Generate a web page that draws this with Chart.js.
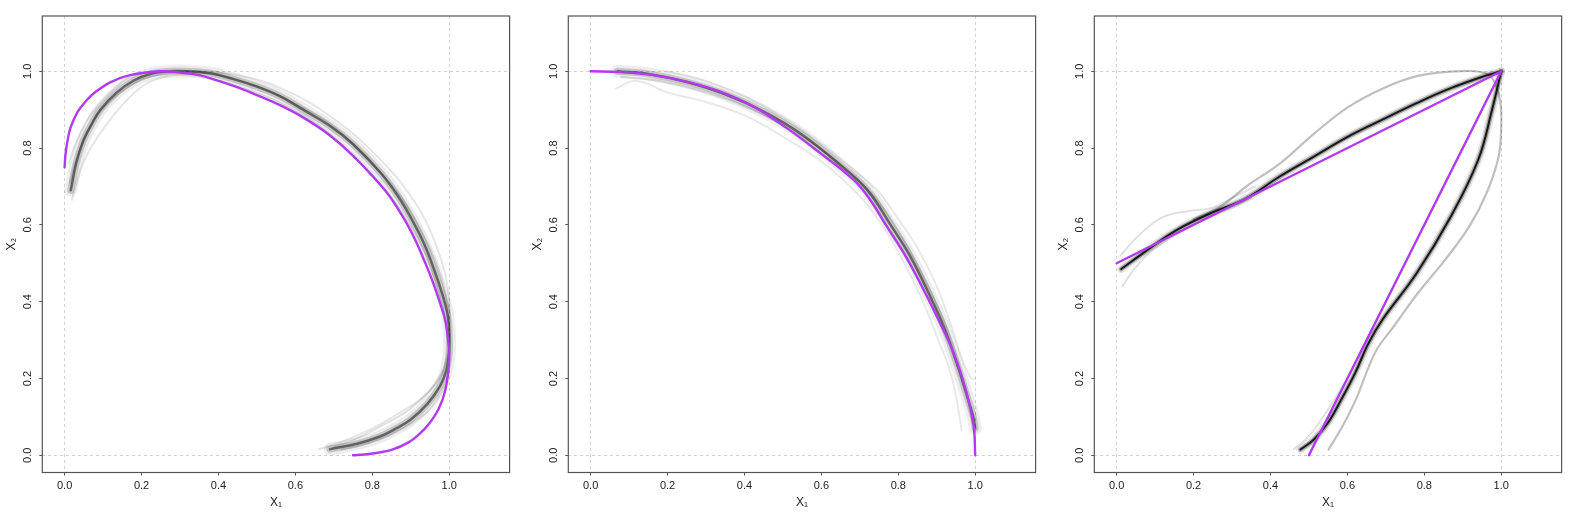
<!DOCTYPE html>
<html><head><meta charset="utf-8">
<script src="https://cdn.jsdelivr.net/npm/chart.js@4.4.1/dist/chart.umd.min.js"></script>
<style>
html,body{margin:0;padding:0;background:#fff;width:1578px;height:515px;overflow:hidden}
.pane{position:absolute;top:0;width:526px;height:515px}
canvas{display:block}
</style></head><body>
<div class="pane" style="left:0px"><canvas id="c1" width="526" height="515" style="width:526px;height:515px"></canvas></div>
<div class="pane" style="left:526px"><canvas id="c2" width="526" height="515" style="width:526px;height:515px"></canvas></div>
<div class="pane" style="left:1052px"><canvas id="c3" width="526" height="515" style="width:526px;height:515px"></canvas></div>
<script>
// ---------- tick values / labels ----------
const tickValues = [0, 0.2, 0.4, 0.6, 0.8, 1.0];
const tickLabels = ["0.0", "0.2", "0.4", "0.6", "0.8", "1.0"];
const xTitle = "X\u2081";
const yTitle = "X\u2082";

// ---------- panel 1 ----------
const p1PurpleX = [0, 0.002, 0.006, 0.015, 0.033, 0.055, 0.08, 0.12, 0.17, 0.25, 0.3, 0.35, 0.4, 0.45, 0.5, 0.56, 0.62, 0.69, 0.75, 0.833, 0.88, 0.912, 0.938, 0.958, 0.975, 0.99, 0.997, 1.0, 0.99, 0.972, 0.946, 0.922, 0.893, 0.852, 0.81, 0.78, 0.75];
const p1PurpleY = [0.75, 0.78, 0.81, 0.852, 0.893, 0.922, 0.946, 0.972, 0.99, 1.0, 0.997, 0.99, 0.975, 0.958, 0.938, 0.912, 0.88, 0.833, 0.78, 0.69, 0.62, 0.56, 0.5, 0.45, 0.4, 0.35, 0.3, 0.25, 0.17, 0.12, 0.08, 0.055, 0.033, 0.015, 0.006, 0.002, 0.0];
const p1CoreX = [0.016, 0.03, 0.049, 0.07, 0.093, 0.136, 0.18, 0.223, 0.27, 0.32, 0.38, 0.431, 0.5, 0.562, 0.62, 0.692, 0.75, 0.822, 0.87, 0.905, 0.935, 0.962, 0.982, 0.995, 1.0, 1.0, 0.993, 0.976, 0.945, 0.9, 0.862, 0.82, 0.76, 0.69];
const p1CoreY = [0.69, 0.76, 0.82, 0.862, 0.9, 0.945, 0.976, 0.993, 1.0, 1.0, 0.995, 0.982, 0.96, 0.934, 0.9, 0.856, 0.81, 0.735, 0.67, 0.61, 0.55, 0.48, 0.42, 0.37, 0.32, 0.27, 0.223, 0.18, 0.136, 0.093, 0.07, 0.049, 0.03, 0.016];
const p1OuterX = [0.01, 0.03, 0.06, 0.093, 0.13, 0.162, 0.2, 0.26, 0.35, 0.45, 0.562, 0.692, 0.822, 0.918, 0.965, 0.99, 1.0, 1.0, 0.995, 0.975, 0.93, 0.87, 0.8, 0.72, 0.66];
const p1OuterY = [0.76, 0.815, 0.875, 0.917, 0.955, 0.98, 0.995, 1.0, 1.0, 0.99, 0.956, 0.882, 0.769, 0.648, 0.55, 0.47, 0.4, 0.3, 0.25, 0.2, 0.15, 0.11, 0.07, 0.035, 0.015];
const p1InnerX = [0.019, 0.04, 0.065, 0.093, 0.135, 0.18, 0.223, 0.28, 0.35, 0.43, 0.562, 0.692, 0.822, 0.918, 0.965, 0.99, 1.0, 0.995, 0.975, 0.94, 0.88, 0.8, 0.72];
const p1InnerY = [0.665, 0.74, 0.795, 0.839, 0.895, 0.943, 0.973, 0.99, 0.987, 0.967, 0.917, 0.835, 0.705, 0.565, 0.452, 0.35, 0.27, 0.2, 0.155, 0.11, 0.07, 0.035, 0.015];
const p1MidX = [0.014, 0.04, 0.08, 0.12, 0.17, 0.22, 0.3, 0.4, 0.5, 0.6, 0.7, 0.8, 0.88, 0.94, 0.98, 1.0, 0.998, 0.985, 0.95, 0.89, 0.82, 0.75, 0.7];
const p1MidY = [0.71, 0.8, 0.878, 0.925, 0.962, 0.985, 0.998, 0.99, 0.962, 0.915, 0.855, 0.76, 0.665, 0.56, 0.46, 0.36, 0.28, 0.225, 0.17, 0.115, 0.075, 0.04, 0.022];

// ---------- panel 2 ----------
const p2PurpleX = [0, 0.077, 0.164, 0.25, 0.337, 0.424, 0.51, 0.597, 0.684, 0.727, 0.77, 0.814, 0.857, 0.9, 0.944, 0.978, 0.996, 1.0];
const p2PurpleY = [1.0, 0.998, 0.99, 0.973, 0.947, 0.908, 0.852, 0.787, 0.717, 0.665, 0.596, 0.527, 0.448, 0.362, 0.266, 0.162, 0.075, 0.0];
const p2CoreX = [0.07, 0.15, 0.25, 0.35, 0.45, 0.55, 0.65, 0.72, 0.78, 0.83, 0.88, 0.92, 0.955, 0.98, 0.995, 1.0];
const p2CoreY = [1.0, 0.993, 0.972, 0.94, 0.895, 0.835, 0.755, 0.69, 0.6, 0.52, 0.42, 0.33, 0.23, 0.15, 0.1, 0.07];
const p2OuterX = [0.2, 0.3, 0.4, 0.5, 0.6, 0.7, 0.75, 0.8, 0.85, 0.9, 0.94, 0.97, 0.99, 1.0];
const p2OuterY = [1.0, 0.975, 0.935, 0.88, 0.81, 0.73, 0.685, 0.615, 0.54, 0.44, 0.33, 0.24, 0.2, 0.2];
const p2InnerX = [0.065, 0.12, 0.2, 0.3, 0.4, 0.5, 0.6, 0.7, 0.75, 0.8, 0.86, 0.9, 0.94, 0.965];
const p2InnerY = [0.955, 0.975, 0.945, 0.92, 0.885, 0.83, 0.765, 0.675, 0.61, 0.53, 0.41, 0.31, 0.2, 0.065];
const p2MidX = [0.08, 0.18, 0.3, 0.42, 0.55, 0.66, 0.74, 0.8, 0.86, 0.91, 0.95, 0.975, 0.99];
const p2MidY = [0.985, 0.975, 0.945, 0.9, 0.83, 0.75, 0.67, 0.585, 0.475, 0.37, 0.26, 0.17, 0.1];

// ---------- panel 3 ----------
const p3PurpleX = [0, 1, 0.5];
const p3PurpleY = [0.5, 1, 0];
const p3UpperCoreX = [0.012, 0.068, 0.157, 0.246, 0.335, 0.424, 0.513, 0.602, 0.691, 0.78, 0.869, 0.958, 1.0];
const p3UpperCoreY = [0.485, 0.526, 0.587, 0.631, 0.668, 0.726, 0.778, 0.83, 0.874, 0.917, 0.956, 0.988, 1.0];
const p3RightCoreX = [1.0, 0.976, 0.94, 0.869, 0.78, 0.691, 0.655, 0.62, 0.584, 0.549, 0.513, 0.478];
const p3RightCoreY = [1.0, 0.899, 0.769, 0.622, 0.474, 0.353, 0.292, 0.214, 0.145, 0.084, 0.041, 0.015];
const p3BumpX = [0.01, 0.06, 0.12, 0.18, 0.25, 0.3, 0.36];
const p3BumpY = [0.52, 0.575, 0.62, 0.635, 0.645, 0.67, 0.7];
const p3LowX = [0.015, 0.05, 0.1, 0.2, 0.3, 0.35];
const p3LowY = [0.44, 0.49, 0.54, 0.6, 0.645, 0.67];
const p3LoopX = [0.2, 0.27, 0.337, 0.426, 0.515, 0.604, 0.694, 0.783, 0.886, 0.953, 0.979, 0.997, 1.0, 0.993, 0.962, 0.917, 0.854, 0.783, 0.721, 0.676, 0.649, 0.622, 0.587, 0.551];
const p3LoopY = [0.615, 0.648, 0.7, 0.761, 0.839, 0.908, 0.956, 0.988, 1.0, 0.997, 0.978, 0.925, 0.855, 0.777, 0.683, 0.596, 0.509, 0.422, 0.336, 0.275, 0.214, 0.145, 0.075, 0.015];
const p3LowRightX = [0.46, 0.5, 0.55, 0.6];
const p3LowRightY = [0.015, 0.05, 0.12, 0.2];

// ---------- helpers ----------
const pts = (xs, ys) => xs.map((x, i) => ({x, y: ys[i]}));
const FONT = '"Liberation Sans", Arial, Helvetica, sans-serif';
const PURPLE = '#b23aee';

function line(xs, ys, color, width, order, tension) {
  return {
    data: pts(xs, ys), showLine: true, pointRadius: 0, pointHoverRadius: 0,
    borderColor: color, borderWidth: width, fill: false,
    tension: tension === undefined ? 0.4 : tension,
    borderCapStyle: 'round', borderJoinStyle: 'round', order: order
  };
}
function band(xs, ys, strong) {
  const a = strong ? [0.10, 0.30, 0.85] : [0.07, 0.17, 0.5];
  const w = strong ? [8, 4.5, 2] : [13, 7, 2.5];
  return [
    line(xs, ys, `rgba(0,0,0,${a[0]})`, w[0], 5),
    line(xs, ys, `rgba(0,0,0,${a[1]})`, w[1], 4),
    line(xs, ys, `rgba(0,0,0,${a[2]})`, w[2], 3)
  ];
}

const boxPlugin = {
  id: 'box',
  afterDraw(chart) {
    const {ctx, chartArea: a} = chart;
    ctx.save();
    ctx.strokeStyle = '#555';
    ctx.lineWidth = 1.2;
    ctx.strokeRect(a.left, a.top, a.right - a.left, a.bottom - a.top);
    ctx.restore();
  }
};

function axis(isY) {
  return {
    type: 'linear',
    min: isY ? -0.0448 : -0.058,
    max: isY ? 1.144 : 1.157,
    afterBuildTicks: s => { s.ticks = tickValues.map(v => ({value: v})); },
    afterFit: s => { if (isY) s.width = 42.3; else s.height = 42.5; },
    ticks: {
      callback: (v, i) => tickLabels[i],
      font: {family: FONT, size: 11},
      color: '#222',
      autoSkip: false,
      padding: isY ? 3.4 : 3.5,
      minRotation: isY ? 90 : 0,
      maxRotation: isY ? 90 : 0,
      crossAlign: isY ? 'center' : 'near'
    },
    grid: {
      color: c => (c.tick && (c.tick.value === 0 || c.tick.value === 1)) ? '#d2d2d2' : 'rgba(0,0,0,0)',
      lineWidth: 1,
      drawTicks: true,
      tickLength: 3,
      tickColor: '#555',
      tickWidth: 1
    },
    border: {display: false, dash: [3, 3]},
    title: {
      display: true,
      text: isY ? yTitle : xTitle,
      font: {family: FONT, size: 12, lineHeight: 1.2},
      color: '#222',
      padding: isY ? {top: 4.6, bottom: 0} : {top: 0, bottom: 5.5}
    }
  };
}

function make(id, datasets) {
  new Chart(document.getElementById(id), {
    type: 'scatter',
    data: {datasets},
    options: {
      responsive: false, animation: false, events: [],
      layout: {padding: {left: 0, right: 16.4, top: 16, bottom: 0}},
      plugins: {legend: {display: false}, tooltip: {enabled: false}},
      scales: {x: axis(false), y: axis(true)}
    },
    plugins: [boxPlugin]
  });
}

make('c1', [
  line(p1PurpleX, p1PurpleY, PURPLE, 2.4, 0),
  ...band(p1CoreX, p1CoreY, false),
  line(p1OuterX, p1OuterY, 'rgba(0,0,0,0.1)', 2, 6),
  line(p1InnerX, p1InnerY, 'rgba(0,0,0,0.1)', 2, 6),
  line(p1MidX, p1MidY, 'rgba(0,0,0,0.12)', 2, 6)
]);

make('c2', [
  line(p2PurpleX, p2PurpleY, PURPLE, 2.4, 0),
  ...band(p2CoreX, p2CoreY, false),
  line(p2OuterX, p2OuterY, 'rgba(0,0,0,0.09)', 2, 6),
  line(p2InnerX, p2InnerY, 'rgba(0,0,0,0.09)', 2, 6),
  line(p2MidX, p2MidY, 'rgba(0,0,0,0.12)', 2, 6)
]);

make('c3', [
  line(p3PurpleX, p3PurpleY, PURPLE, 2.4, 0, 0),
  ...band(p3UpperCoreX, p3UpperCoreY, true),
  ...band(p3RightCoreX, p3RightCoreY, true),
  line(p3BumpX, p3BumpY, 'rgba(0,0,0,0.12)', 2, 6),
  line(p3LowX, p3LowY, 'rgba(0,0,0,0.12)', 2, 6),
  line(p3LoopX, p3LoopY, 'rgba(0,0,0,0.25)', 2.2, 6),
  line(p3LowRightX, p3LowRightY, 'rgba(0,0,0,0.12)', 2, 6)
]);
</script>
</body></html>
